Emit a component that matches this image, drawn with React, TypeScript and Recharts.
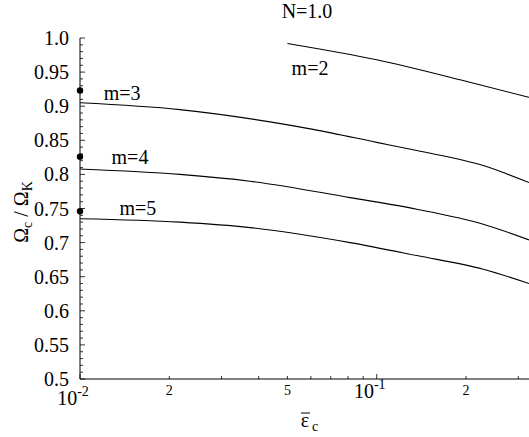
import { LineChart, Line, XAxis, YAxis, ReferenceDot } from 'recharts';

// curves: [eps_c, Omega_c/Omega_K]
const m2 = [
  { x: 0.05, y: 0.992 },
  { x: 0.1, y: 0.968 },
  { x: 0.206, y: 0.935 },
  { x: 0.326, y: 0.913 },
];
const m3 = [
  { x: 0.01, y: 0.905 },
  { x: 0.0217, y: 0.895 },
  { x: 0.0437, y: 0.877 },
  { x: 0.061, y: 0.866 },
  { x: 0.1, y: 0.847 },
  { x: 0.1365, y: 0.835 },
  { x: 0.2286, y: 0.813 },
  { x: 0.326, y: 0.788 },
];
const m4 = [
  { x: 0.01, y: 0.808 },
  { x: 0.0217, y: 0.8 },
  { x: 0.0374, y: 0.79 },
  { x: 0.0813, y: 0.766 },
  { x: 0.1365, y: 0.749 },
  { x: 0.2286, y: 0.727 },
  { x: 0.326, y: 0.704 },
];
const m5 = [
  { x: 0.01, y: 0.735 },
  { x: 0.0217, y: 0.73 },
  { x: 0.0374, y: 0.722 },
  { x: 0.0813, y: 0.7 },
  { x: 0.1365, y: 0.681 },
  { x: 0.2286, y: 0.661 },
  { x: 0.326, y: 0.64 },
];
const dots = [
  { x: 0.01, y: 0.923 },
  { x: 0.01, y: 0.826 },
  { x: 0.01, y: 0.746 },
];
const curveLabels = [
  { x: 0.0596, y: 0.956, text: 'm=2' },
  { x: 0.01386, y: 0.92, text: 'm=3' },
  { x: 0.01474, y: 0.826, text: 'm=4' },
  { x: 0.01568, y: 0.751, text: 'm=5' },
];

const xTicks = [0.01, 0.02, 0.03, 0.04, 0.05, 0.06, 0.07, 0.08, 0.09, 0.1, 0.2, 0.3];
const xDecades = [0.01, 0.1];
const xDecadeExp = ['-2', '-1'];
const xMinorLabelled = [0.02, 0.05, 0.2];
const xMinorText = ['2', '5', '2'];
const yLabels = ['0.5', '0.55', '0.6', '0.65', '0.7', '0.75', '0.8', '0.85', '0.9', '0.95', '1.0'];
const yTicks = Array.from({ length: 51 }, (_, i) => Math.round(50 + i) / 100);

const serif = { fontFamily: 'Liberation Serif' };

const BottomTick = (props: any) => {
  const { x, y, payload } = props;
  const v = payload.value;
  const d = xDecades.findIndex((t) => Math.abs(t - v) < 1e-9);
  const m = xMinorLabelled.findIndex((t) => Math.abs(t - v) < 1e-9);
  return (
    <g>
      <line x1={x} x2={x} y1={y} y2={y - (d >= 0 ? 5 : 3)} stroke="#000" strokeWidth={0.8} />
      {d >= 0 && (
        <text x={x - 7} y={y + (d === 0 ? 26 : 19)} textAnchor="middle" style={serif} fontSize={20} fill="#000">
          10
          <tspan fontSize={14} dy={-9}>{xDecadeExp[d]}</tspan>
        </text>
      )}
      {m >= 0 && (
        <text x={x} y={y + 16} textAnchor="middle" style={serif} fontSize={14} fill="#000">
          {xMinorText[m]}
        </text>
      )}
    </g>
  );
};

const TopTick = (props: any) => {
  const { x, y, payload } = props;
  const major = xDecades.some((t) => Math.abs(t - payload.value) < 1e-9);
  return <line x1={x} x2={x} y1={y} y2={y + (major ? 5 : 3)} stroke="#000" strokeWidth={0.8} />;
};

const LeftTick = (props: any) => {
  const { x, y, payload } = props;
  const lab = yLabels.find((l) => Math.abs(parseFloat(l) - payload.value) < 1e-9);
  return (
    <g>
      <line x1={x} x2={x + (lab ? 5 : 3)} y1={y} y2={y} stroke="#000" strokeWidth={0.8} />
      {lab && (
        <text x={x - 11} y={y + 7} textAnchor="end" style={serif} fontSize={20} fill="#000">
          {lab}
        </text>
      )}
    </g>
  );
};

export default function App() {
  return (
    <div style={{ position: 'absolute', left: 0, top: 0, width: 529, height: 437, overflow: 'hidden', background: '#fff' }}>
      <LineChart width={530} height={437} margin={{ top: 38, right: 1, bottom: 0, left: 0 }}>
        <XAxis
          xAxisId="b"
          dataKey="x"
          type="number"
          scale="log"
          domain={[0.01, 0.326]}
          ticks={xTicks}
          tick={<BottomTick />}
          tickSize={0}
          tickMargin={0}
          height={58}
          stroke="#000"
          interval={0}
        />
        <XAxis
          xAxisId="t"
          orientation="top"
          dataKey="x"
          type="number"
          scale="log"
          domain={[0.01, 0.326]}
          ticks={xTicks}
          tick={<TopTick />}
          tickSize={0}
          tickMargin={0}
          height={0}
          stroke="#000"
          interval={0}
        />
        <YAxis
          yAxisId="l"
          type="number"
          domain={[0.5, 1.0]}
          ticks={yTicks}
          tick={<LeftTick />}
          tickSize={0}
          tickMargin={0}
          width={80}
          stroke="#000"
          interval={0}
        />
        <YAxis yAxisId="r" orientation="right" type="number" domain={[0.5, 1.0]} tick={false} width={0} stroke="#000" />
        {[m2, m3, m4, m5].map((d, i) => (
          <Line
            key={i}
            xAxisId="b"
            yAxisId="l"
            data={d}
            dataKey="y"
            type="monotone"
            stroke="#000"
            strokeWidth={1.1}
            dot={false}
            isAnimationActive={false}
          />
        ))}
        {dots.map((p, i) => (
          <ReferenceDot
            key={i}
            xAxisId="b"
            yAxisId="l"
            x={p.x}
            y={p.y}
            r={3.2}
            fill="#000"
            stroke="none"
            ifOverflow="visible"
          />
        ))}
        {curveLabels.map((c) => (
          <ReferenceDot
            key={c.text}
            xAxisId="b"
            yAxisId="l"
            x={c.x}
            y={c.y}
            ifOverflow="visible"
            shape={(p: any) => (
              <text x={p.cx} y={p.cy + 7} textAnchor="middle" style={serif} fontSize={20} fill="#000">
                {c.text}
              </text>
            )}
          />
        ))}
      </LineChart>
      <svg width={529} height={437} style={{ position: 'absolute', left: 0, top: 0, pointerEvents: 'none' }}>
        <text x={307} y={18} textAnchor="middle" style={serif} fontSize={20} fill="#000">
          N=1.0
        </text>
        <text
          x={28}
          y={212}
          transform="rotate(-90 28 212)"
          textAnchor="middle"
          style={serif}
          fontSize={20}
          fill="#000"
        >
          Ω<tspan fontSize={14} dy={4}>c</tspan>
          <tspan dy={-4}> / Ω</tspan>
          <tspan fontSize={14} dy={4}>K</tspan>
        </text>
        <line x1={301} x2={310} y1={413} y2={413} stroke="#000" strokeWidth={1} />
        <text x={305} y={427} textAnchor="middle" style={serif} fontSize={20} fill="#000">
          ε
        </text>
        <text x={312} y={431} style={serif} fontSize={14} fill="#000">
          c
        </text>
      </svg>
    </div>
  );
}
